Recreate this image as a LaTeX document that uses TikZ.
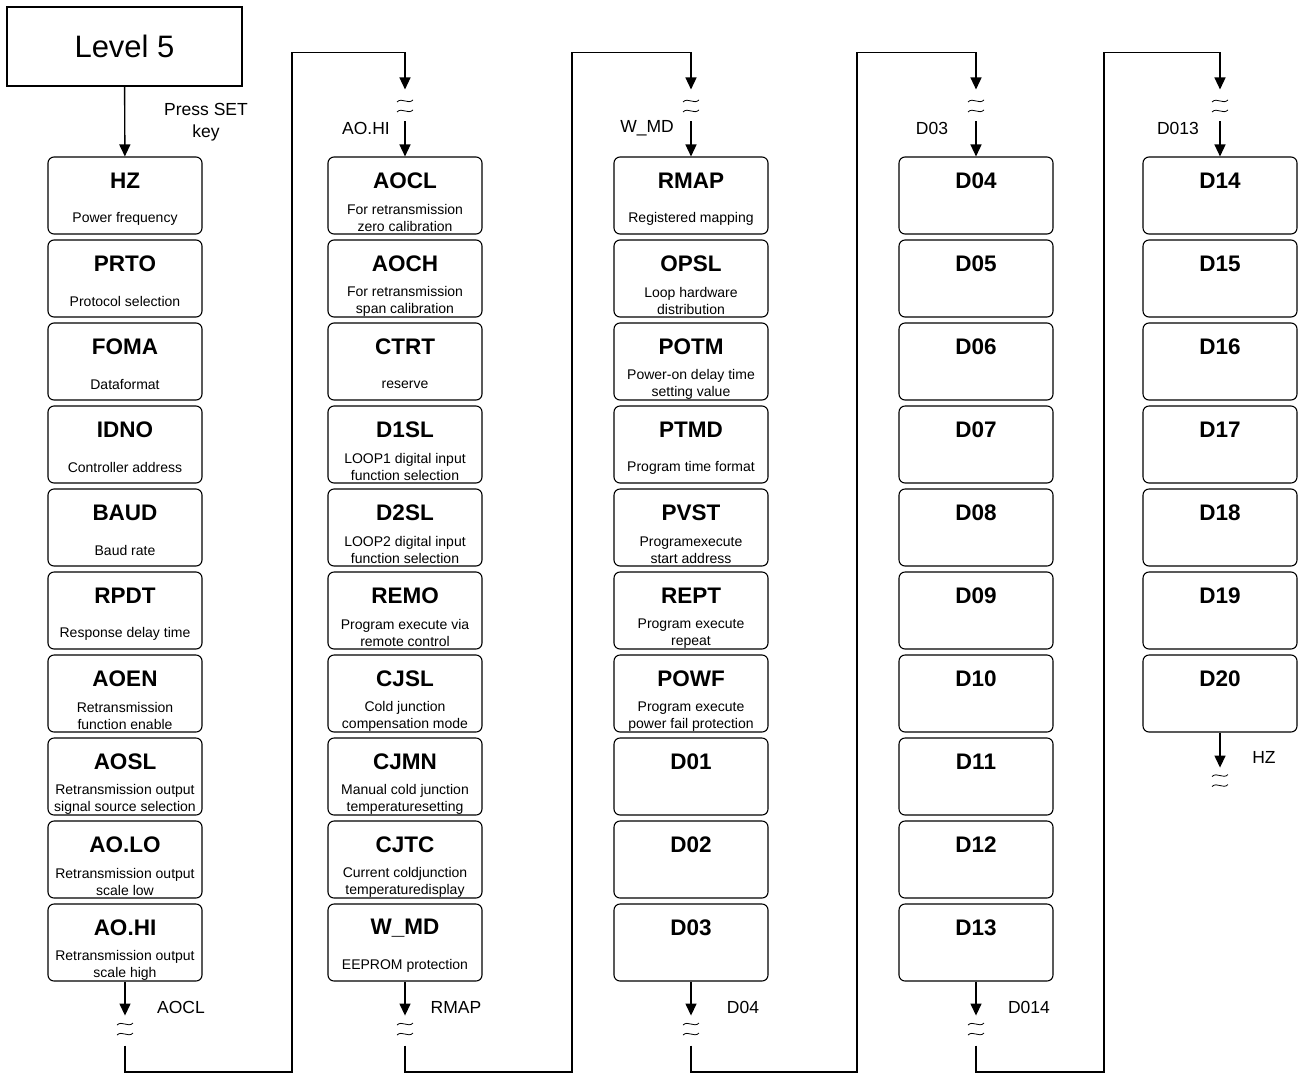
\documentclass[tikz,border=0pt]{standalone}
\usepackage{fontspec}
\setmainfont{Liberation Sans}
\usetikzlibrary{arrows.meta,calc}

% one parameter box: name, x, row, title, description
\newcommand{\parnode}[5]{
    \node[box] (#1) at (#2,-195.5-83*#3) {};
    \node[ttl] at ($(#1.north)+(0,-24.5)$) {#4};
    \node[sub] at ($(#1.north)+(0,-62)$) {#5};
}

\begin{document}
\begin{tikzpicture}[x=1pt, y=1pt,
    box/.style={draw, line width=1.1pt, rounded corners=6pt, minimum width=154pt, minimum height=77pt, inner sep=0pt},
    ttl/.style={font=\fontsize{22.5}{26}\selectfont\bfseries, inner sep=0pt},
    sub/.style={font=\fontsize{14}{17}\selectfont, align=center, inner sep=0pt},
    lbl/.style={font=\fontsize{17.5}{22}\selectfont, align=center, inner sep=0pt},
    flow/.style={line width=1.4pt},
    arr/.style={flow, -{Triangle[length=12pt, width=11pt]}},
    brk/.pic={\foreach \dy in {5,-5} \draw[line width=0.8pt, yshift=\dy] (-8,-1) .. controls (-3,4) and (3,-4) .. (8,1);}
]
    \useasboundingbox (0,0) rectangle (1300,-1074);

    % Level 5
    \node[draw, line width=1.1pt, minimum width=235pt, minimum height=79pt, font=\fontsize{31}{36}\selectfont] (lvl) at (124.5,-46.5) {Level 5};
    \node[lbl] at (206,-122) {Press SET\\key};

    % column 1
    \foreach \nm/\ti/\de [count=\i from 0] in {hz/HZ/Power frequency, prto/PRTO/Protocol selection, foma/FOMA/Dataformat, idno/IDNO/Controller address, baud/BAUD/Baud rate, rpdt/RPDT/Response delay time, aoen/AOEN/{Retransmission\\function enable}, aosl/AOSL/{Retransmission output\\signal source selection}, aolo/AO.LO/{Retransmission output\\scale low}, aohi/AO.HI/{Retransmission output\\scale high}} {
        \parnode{\nm}{125}{\i}{\ti}{\de}
    }
    % column 2
    \foreach \nm/\ti/\de [count=\i from 0] in {aocl/AOCL/{For retransmission\\zero calibration}, aoch/AOCH/{For retransmission\\span calibration}, ctrt/CTRT/reserve, d1sl/D1SL/{LOOP1 digital input\\function selection}, d2sl/D2SL/{LOOP2 digital input\\function selection}, remo/REMO/{Program execute via\\remote control}, cjsl/CJSL/{Cold junction\\compensation mode}, cjmn/CJMN/{Manual cold junction\\temperaturesetting}, cjtc/CJTC/{Current coldjunction\\temperaturedisplay}, wmd/W\_MD/EEPROM protection} {
        \parnode{\nm}{405}{\i}{\ti}{\de}
    }
    % column 3
    \foreach \nm/\ti/\de [count=\i from 0] in {rmap/RMAP/Registered mapping, opsl/OPSL/{Loop hardware\\distribution}, potm/POTM/{Power-on delay time\\setting value}, ptmd/PTMD/Program time format, pvst/PVST/{Programexecute\\start address}, rept/REPT/{Program execute\\repeat}, powf/POWF/{Program execute\\power fail protection}, d01/D01/{}, d02/D02/{}, d03/D03/{}} {
        \parnode{\nm}{691}{\i}{\ti}{\de}
    }
    % columns 4 and 5
    \foreach \k [count=\i from 0] in {04,05,06,07,08,09,10,11,12,13} {
        \parnode{d\k}{976}{\i}{D\k}{}
    }
    \foreach \k [count=\i from 0] in {14,15,16,17,18,19,20} {
        \parnode{d\k}{1220}{\i}{D\k}{}
    }

    % flow
    \draw[arr] (lvl) -- (hz);
    \foreach \b/\t/\xm/\lb/\xb/\lt/\xt in {aohi/aocl/292/AOCL/181/AO.HI/366, wmd/rmap/572/RMAP/456/W\_MD/647, d03/d04/857/D04/743/D03/932, d13/d14/1104/D014/1029/D013/1178} {
        \coordinate (p1) at ($(\b.south)+(0,-34)$);
        \coordinate (p2) at ($(\b.south)+(0,-64)$);
        \coordinate (p3) at (\xm,-1072);
        \coordinate (q1) at ($(\t.north)+(0,104)$);
        \coordinate (q2) at ($(\t.north)+(0,67)$);
        \coordinate (q3) at ($(\t.north)+(0,35)$);
        \draw[arr] (\b.south) -- (p1);
        \pic at ($(\b.south)+(0,-47.5)$) {brk};
        \draw[arr] (p2) |- (p3) |- (q1) -- (q2);
        \pic at ($(\t.north)+(0,50.5)$) {brk};
        \draw[arr] (q3) -- (\t.north);
        \node[lbl] at (\xb,-1007) {\lb};
        \node[lbl] at (\xt,-128) {\lt};
    }
    \coordinate (e1) at ($(d20.south)+(0,-35)$);
    \draw[arr] (d20.south) -- (e1);
    \pic at ($(d20.south)+(0,-48)$) {brk};
    \node[lbl] at (1264,-757) {HZ};
\end{tikzpicture}
\end{document}
